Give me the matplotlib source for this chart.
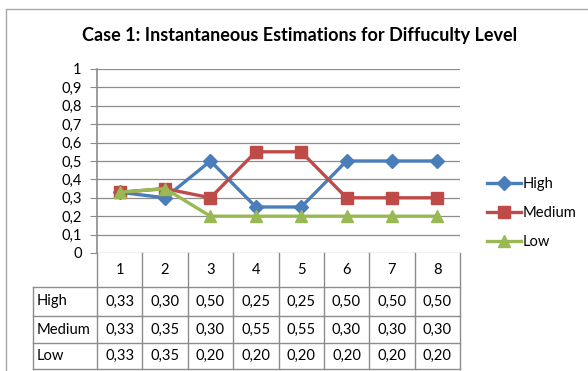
import matplotlib.pyplot as plt
from matplotlib.lines import Line2D

plt.rcParams['font.family'] = ['Lato', 'DejaVu Sans']

steps = [1, 2, 3, 4, 5, 6, 7, 8]
high = [0.33, 0.30, 0.50, 0.25, 0.25, 0.50, 0.50, 0.50]
medium = [0.33, 0.35, 0.30, 0.55, 0.55, 0.30, 0.30, 0.30]
low = [0.33, 0.35, 0.20, 0.20, 0.20, 0.20, 0.20, 0.20]
series_names = ['High', 'Medium', 'Low']
colors = ['#4A7EBB', '#BE4B48', '#98B954']
markers = ['D', 's', '^']
msizes = [7, 8.5, 9]

W, H = 588, 371
fig = plt.figure(figsize=(W / 100, H / 100), dpi=100)
grid = '#8C8C8C'
fs = 10.6

# pixel-space overlay for the frame and the data table
ov = fig.add_axes([0, 0, 1, 1])
ov.set_xlim(0, W)
ov.set_ylim(H, 0)
ov.axis('off')
ov.plot([6, 6, W + 5], [H + 5, 9, 9], color='#A6A6A6', linewidth=1.0)

x0, x1, ytop, ybot = 97, 460, 69, 253
ax = fig.add_axes([x0 / W, 1 - ybot / H, (x1 - x0) / W, (ybot - ytop) / H])

for i, (vals, c, m, ms) in enumerate(zip([high, medium, low], colors, markers, msizes)):
    ax.plot(steps, vals, color=c, marker=m, markersize=ms, linewidth=2.4,
            label=series_names[i], zorder=3 + i)

ax.set_xlim(0.5, 8.5)
ax.set_ylim(0, 1)
yt = [i / 10 for i in range(11)]
ax.set_yticks(yt)
ax.set_yticklabels([f'{v:g}'.replace('.', ',') for v in yt], fontsize=fs)
ax.yaxis.grid(True, color=grid, linewidth=0.9)
ax.set_axisbelow(True)
ax.set_xticks([])
for s in ['top', 'right', 'bottom']:
    ax.spines[s].set_visible(False)
ax.spines['left'].set_color(grid)
ax.spines['left'].set_linewidth(1.2)
ax.tick_params(axis='y', length=5, color=grid, pad=6)
ax.patch.set_alpha(0)

# data table
col_w = (x1 - x0) / len(steps)
lab_x = 33
row_y = [253, 287, 316, 343, 369]
for k in range(len(steps) + 1):
    xx = x0 + k * col_w
    ov.plot([xx, xx], [row_y[0], row_y[-1]], color=grid, linewidth=1.0)
ov.plot([lab_x, lab_x], [row_y[1], row_y[-1]], color=grid, linewidth=1.0)
for yy in row_y[1:]:
    ov.plot([lab_x, x1], [yy, yy], color=grid, linewidth=1.0)
for k, s in enumerate(steps):
    ov.text(x0 + (k + 0.5) * col_w, (row_y[0] + row_y[1]) / 2, str(s),
            ha='center', va='center', fontsize=fs)
for r, (name, vals) in enumerate(zip(series_names, [high, medium, low])):
    yc = (row_y[r + 1] + row_y[r + 2]) / 2
    ov.text(lab_x + 4, yc, name, ha='left', va='center', fontsize=fs)
    for k, v in enumerate(vals):
        ov.text(x0 + (k + 0.5) * col_w, yc, f'{v:.2f}'.replace('.', ','),
                ha='center', va='center', fontsize=fs)

ov.text(300, 36, 'Case 1: Instantaneous Estimations for Diffuculty Level',
        ha='center', va='center', fontsize=13.0, fontweight='bold')

handles = [Line2D([], [], color=c, marker=m, markersize=ms, linewidth=2.4)
           for c, m, ms in zip(colors, markers, msizes)]
fig.legend(handles, series_names, loc='center left',
           bbox_to_anchor=(474 / W, 1 - 213 / H), frameon=False, fontsize=fs,
           handlelength=2.3, handletextpad=0.1, labelspacing=1.0)

fig.savefig('out.png', dpi=100)
